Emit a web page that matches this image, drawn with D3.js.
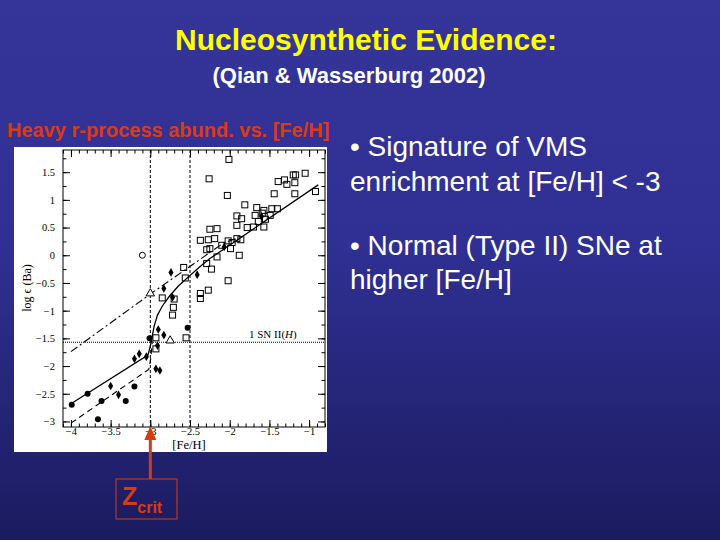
<!DOCTYPE html>
<html><head><meta charset="utf-8">
<script src="https://cdn.jsdelivr.net/npm/d3@7"></script>
<style>html,body{margin:0;padding:0;background:#333399;}svg{display:block;}</style>
</head><body>
<svg id="c" width="720" height="540"></svg>
<script>
// ---------- data ----------
const xTicks = [-4, -3.5, -3, -2.5, -2, -1.5, -1];
const yTicks = [-3, -2.5, -2, -1.5, -1, -0.5, 0, 0.5, 1, 1.5];
const openSquares = [
  [-2.01,1.73],[-2.26,1.38],[-2.03,1.08],
  [-1.05,1.48],[-1.20,1.45],[-1.17,1.45],[-1.39,1.33],[-1.31,1.36],[-1.28,1.28],[-1.18,1.31],
  [-1.44,1.11],[-1.18,1.11],[-0.92,1.15],
  [-1.81,0.91],[-1.66,0.86],[-1.57,0.81],[-1.47,0.84],[-1.40,0.84],[-1.68,0.72],[-1.59,0.76],
  [-1.49,0.72],[-1.55,0.65],[-1.64,0.61],[-1.57,0.51],[-1.70,0.51],[-1.78,0.50],
  [-1.91,0.71],[-1.85,0.66],[-1.91,0.54],
  [-2.25,0.47],[-2.16,0.48],
  [-2.37,0.27],[-2.27,0.28],[-2.19,0.30],
  [-2.29,0.10],[-2.25,0.12],[-2.10,0.18],
  [-2.02,0.26],[-1.97,0.23],[-1.91,0.30],[-1.86,0.28],[-1.99,0.12],
  [-2.16,-0.03],[-1.88,0.0],[-2.29,-0.15],[-2.23,-0.25],
  [-2.58,-0.22],[-2.56,-0.41],[-2.02,-0.46],
  [-2.37,-0.69],[-2.37,-0.78],[-2.27,-0.63],
  [-2.85,-0.77],[-2.70,-0.79],[-2.71,-0.94],[-2.72,-1.08],
  [-2.93,-1.49],[-2.93,-1.69],[-2.55,-1.49]
];
const filledCircles = [
  [-3.99,-2.70],[-3.79,-2.50],[-3.615,-2.63],[-3.66,-2.96],[-3.31,-2.63],[-3.20,-2.37],
  [-3.01,-1.50],[-2.53,-1.31]
];
const filledDiamonds = [
  [-3.50,-2.36],[-3.40,-2.52],[-3.20,-1.87],[-3.14,-1.78],[-3.05,-1.83],
  [-2.90,-1.34],[-2.83,-1.44],[-2.91,-1.63],[-2.93,-2.05],[-2.88,-2.08],
  [-2.83,-0.60],[-2.74,-0.31],[-2.72,-0.76],[-2.41,-0.35],[-2.07,0.15],[-1.60,0.70]
];
const openTriangles = [[-3.0,-0.69],[-2.75,-1.54]];
const openCircles = [[-3.1,0.0]];
const solidModel = [
  [-4,-2.68],[-3.03,-1.80],[-3.0,-1.64],[-2.975,-1.45],[-2.95,-1.27],[-2.91,-1.08],
  [-2.85,-0.92],[-2.76,-0.74],[-2.65,-0.56],[-2.52,-0.39],[-2.38,-0.21],[-2.25,-0.06],[-0.885,1.27]
];
const dashedModel = [[-4,-3.03],[-3.02,-2.06],[-3.0,-1.92],[-2.985,-1.72],[-2.975,-1.55]];
const dashDotModel = [[-4,-1.74],[-3.0,-0.70],[-2.08,0.22],[-1.9,0.31]];
const snLevel = -1.57;
const zLines = [-3, -2.5];

// ---------- drawing ----------
const svg = d3.select("#c");
const defs = svg.append("defs");
const grad = defs.append("linearGradient").attr("id","bg").attr("x1",0).attr("y1",0).attr("x2",0).attr("y2",1);
grad.append("stop").attr("offset","0%").attr("stop-color","#343499");
grad.append("stop").attr("offset","45%").attr("stop-color","#303094");
grad.append("stop").attr("offset","100%").attr("stop-color","#1b1b60");
svg.append("rect").attr("width",720).attr("height",540).attr("fill","url(#bg)");

const sans = "'Liberation Sans', Arial, sans-serif";
const serif = "'Liberation Serif', 'Times New Roman', serif";

svg.append("text").attr("x",366).attr("y",50).attr("text-anchor","middle")
  .attr("font-family",sans).attr("font-weight","bold").attr("font-size",30).attr("fill","#ffff00")
  .text("Nucleosynthetic Evidence:");
svg.append("text").attr("x",349).attr("y",83).attr("text-anchor","middle")
  .attr("font-family",sans).attr("font-weight","bold").attr("font-size",22).attr("fill","#ffffff")
  .text("(Qian & Wasserburg 2002)");
svg.append("text").attr("x",7).attr("y",137)
  .attr("font-family",sans).attr("font-weight","bold").attr("font-size",20).attr("fill","#dd3a12")
  .text("Heavy r-process abund. vs. [Fe/H]");

const bullets = [
  ["• Signature of VMS", 156], ["enrichment at [Fe/H] < -3", 191],
  ["• Normal (Type II) SNe at", 255], ["higher [Fe/H]", 289]
];
bullets.forEach(b => svg.append("text").attr("x",350).attr("y",b[1])
  .attr("font-family",sans).attr("font-size",28).attr("fill","#ffffff").text(b[0]));

// panel
svg.append("rect").attr("x",14).attr("y",147).attr("width",313).attr("height",305).attr("fill","#ffffff");

const L = 63, R = 325, T = 150, B = 427;
const x = d3.scaleLinear().domain([-4.1,-0.8]).range([L,R]);
const y = d3.scaleLinear().domain([-3.1,1.9]).range([B,T]);

const g = svg.append("g");
// frame
g.append("rect").attr("x",L).attr("y",T).attr("width",R-L).attr("height",B-T)
  .attr("fill","none").attr("stroke","#000").attr("stroke-width",1);

// ticks (inward)
const fmt = d => d3.format("")(d).replace("-","\u2212");
const xMinor = d3.range(-4.1, -0.79, 0.1).map(v => +v.toFixed(2));
const yMinor = d3.range(-3.0, 1.91, 0.25).map(v => +v.toFixed(2));
const axB = d3.axisBottom(x).tickValues(xTicks).tickSize(-7).tickFormat(fmt).tickPadding(1);
const axT = d3.axisTop(x).tickValues(xTicks).tickSize(-7).tickFormat("");
const axL = d3.axisLeft(y).tickValues(yTicks).tickSize(-7).tickFormat(fmt).tickPadding(8);
const axR = d3.axisRight(y).tickValues(yTicks).tickSize(-7).tickFormat("");
const mB = d3.axisBottom(x).tickValues(xMinor).tickSize(-3.5).tickFormat("");
const mT = d3.axisTop(x).tickValues(xMinor).tickSize(-3.5).tickFormat("");
const mL = d3.axisLeft(y).tickValues(yMinor).tickSize(-3.5).tickFormat("");
const mR = d3.axisRight(y).tickValues(yMinor).tickSize(-3.5).tickFormat("");
function put(ax, tr){ const a = g.append("g").attr("transform",tr).call(ax);
  a.select(".domain").remove();
  a.selectAll("line").attr("stroke","#000");
  a.selectAll("text").attr("font-family",serif).attr("font-size",10.5).attr("fill","#000");
  return a; }
put(axB,`translate(0,${B})`); put(axT,`translate(0,${T})`);
put(axL,`translate(${L},0)`); put(axR,`translate(${R},0)`);
put(mB,`translate(0,${B})`); put(mT,`translate(0,${T})`);
put(mL,`translate(${L},0)`); put(mR,`translate(${R},0)`);

// axis titles
svg.append("text").attr("x",189).attr("y",449).attr("text-anchor","middle")
  .attr("font-family",serif).attr("font-size",12.5).attr("fill","#000").text("[Fe/H]");
svg.append("text").attr("transform","translate(31,288) rotate(-90)").attr("text-anchor","middle")
  .attr("font-family",serif).attr("font-size",12).attr("fill","#000").text("log \u03F5 (Ba)");

// reference lines
zLines.forEach(v => g.append("line").attr("x1",x(v)).attr("x2",x(v)).attr("y1",T).attr("y2",B)
  .attr("stroke","#000").attr("stroke-width",1).attr("stroke-dasharray","3,2"));
g.append("line").attr("x1",L).attr("x2",R).attr("y1",y(snLevel)).attr("y2",y(snLevel))
  .attr("stroke","#000").attr("stroke-width",1).attr("stroke-dasharray","1,1");
const sn = svg.append("text").attr("x",249).attr("y",y(snLevel)-4)
  .attr("font-family",serif).attr("font-size",11).attr("fill","#000");
sn.append("tspan").text("1 SN II(");
sn.append("tspan").attr("font-style","italic").text("H");
sn.append("tspan").text(")");

// model lines
const line = d3.line().x(d => x(d[0])).y(d => y(d[1]));
g.append("path").attr("d",line(solidModel)).attr("fill","none").attr("stroke","#000").attr("stroke-width",1.3);
g.append("path").attr("d",line(dashedModel)).attr("fill","none").attr("stroke","#000").attr("stroke-width",1.1).attr("stroke-dasharray","6,4");
g.append("path").attr("d",line(dashDotModel)).attr("fill","none").attr("stroke","#000").attr("stroke-width",1.1).attr("stroke-dasharray","8,3,2,3");

// points
g.selectAll(".sq").data(openSquares).join("rect").attr("x",d=>x(d[0])-3).attr("y",d=>y(d[1])-3)
  .attr("width",6).attr("height",6).attr("fill","none").attr("stroke","#000").attr("stroke-width",1);
g.selectAll(".fc").data(filledCircles).join("circle").attr("cx",d=>x(d[0])).attr("cy",d=>y(d[1])).attr("r",3).attr("fill","#000");
const dia = d3.symbol().type(d3.symbolDiamond).size(22);
g.selectAll(".fd").data(filledDiamonds).join("path").attr("d",dia)
  .attr("transform",d=>`translate(${x(d[0])},${y(d[1])})`).attr("fill","#000");
const tri = d3.symbol().type(d3.symbolTriangle).size(30);
g.selectAll(".ot").data(openTriangles).join("path").attr("d",tri)
  .attr("transform",d=>`translate(${x(d[0])},${y(d[1])})`).attr("fill","#fff").attr("stroke","#000").attr("stroke-width",1);
g.selectAll(".oc").data(openCircles).join("circle").attr("cx",d=>x(d[0])).attr("cy",d=>y(d[1])).attr("r",3)
  .attr("fill","none").attr("stroke","#000").attr("stroke-width",1);

// Z_crit arrow and box
const red = "#d63c12";
const ax3 = x(-3);
svg.append("line").attr("x1",ax3).attr("x2",ax3).attr("y1",438).attr("y2",479).attr("stroke",red).attr("stroke-width",3);
svg.append("path").attr("d",`M${ax3},426 L${ax3-6},440 L${ax3+6},440 Z`).attr("fill",red);
svg.append("rect").attr("x",116).attr("y",479).attr("width",61).attr("height",40).attr("fill","none").attr("stroke",red).attr("stroke-width",1);
const zt = svg.append("text").attr("x",122).attr("y",505).attr("font-family",sans).attr("font-weight","bold").attr("fill",red);
zt.append("tspan").attr("font-size",25).text("Z");
zt.append("tspan").attr("font-size",16).attr("dy",8).text("crit");
</script>
</body></html>
